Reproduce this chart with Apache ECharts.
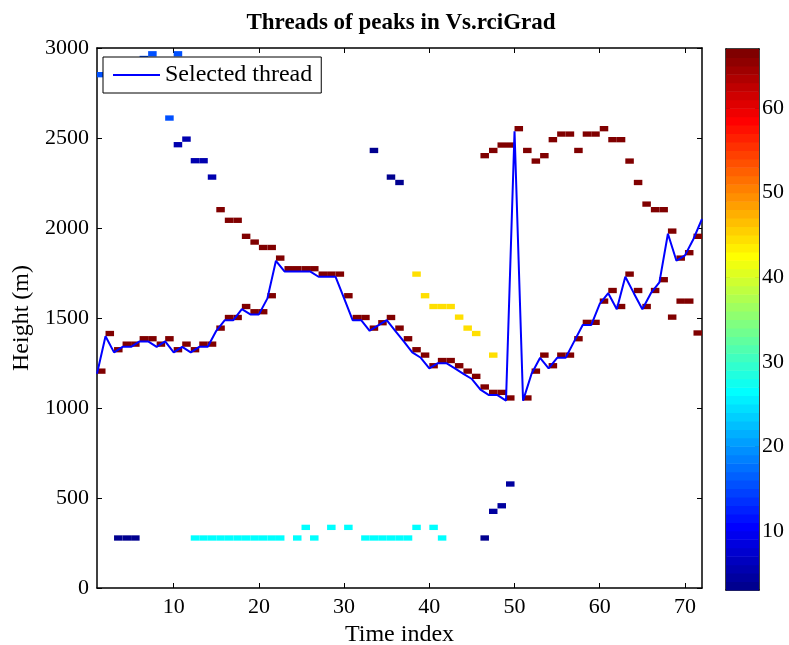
<!DOCTYPE html>
<html><head><meta charset="utf-8">
<script src="https://cdn.jsdelivr.net/npm/echarts@6/dist/echarts.min.js"></script>
<style>html,body{margin:0;padding:0;background:#fff}#c{width:789px;height:645px}</style>
</head><body><div id="c"></div>
<script>
// ---- data ----
const timeIndex = Array.from({length: 72}, (_, i) => i + 1);
const selectedThread = [
  1190,1399,1309,1340,1340,1370,1370,1340,1370,1309,
  1340,1309,1340,1340,1429,1488,1488,1549,1520,1520,
  1609,1818,1759,1759,1759,1759,1729,1729,1729,1609,
  1488,1488,1429,1459,1488,1429,1370,1309,1279,1220,
  1249,1249,1220,1190,1161,1102,1072,1072,1041,2537,
  1041,1190,1279,1220,1279,1279,1370,1461,1461,1579,
  1638,1549,1729,1638,1549,1638,1698,1968,1818,1848,
  1939,2050
];
// peaks [time index, height (m)] grouped by thread id
const thread67 = [
  [1,1190],[2,1399],[3,1309],[4,1340],[5,1340],[6,1370],[7,1370],[8,1340],[9,1370],[10,1309],
  [11,1340],[12,1309],[13,1340],[14,1340],[15,1429],[16,1488],[17,1488],[18,1549],[19,1520],[20,1520],
  [21,1609],[22,1818],[23,1759],[24,1759],[25,1759],[26,1759],[27,1729],[28,1729],[29,1729],[30,1609],
  [31,1488],[32,1488],[33,1429],[34,1459],[35,1488],[36,1429],[37,1370],[38,1309],[39,1279],[40,1220],
  [41,1249],[42,1249],[43,1220],[44,1190],[45,1161],[46,1102],[47,1072],[48,1072],[49,1041],
  [51,1041],[52,1190],[53,1279],[54,1220],[55,1279],[56,1279],[57,1370],[58,1461],[59,1461],[60,1579],
  [61,1638],[62,1549],[63,1729],[64,1638],[65,1549],[66,1638],[67,1698],[68,1968],[69,1818],[70,1848],
  [71,1939],
  [15,2087],[16,2028],[17,2028],[18,1939],[19,1907],[20,1877],[21,1877],
  [46,2387],[47,2416],[48,2446],[49,2446],[50,2537],[51,2416],[52,2357],[53,2387],[54,2476],
  [55,2507],[56,2507],[57,2416],[58,2507],[59,2507],[60,2537],[61,2476],[62,2476],[63,2357],
  [64,2238],[65,2118],[66,2087],[67,2087],
  [68,1490],[69,1579],[70,1579],[71,1402]
];
const thread15 = [[1,2837],[6,2927],[7,2953],[9,2596],[10,2953]];
const thread5 = [[10,2448],[11,2479],[12,2359],[13,2359],[14,2268]];
const thread3 = [[33,2416],[35,2268],[36,2238],[3,263],[4,263],[5,263],[46,263]];
const thread4 = [[47,411],[48,442],[49,563]];
const thread26 = [
  [12,263],[13,263],[14,263],[15,263],[16,263],[17,263],[18,263],[19,263],[20,263],[21,263],[22,263],
  [24,263],[25,322],[26,263],[28,322],[30,322],
  [32,263],[33,263],[34,263],[35,263],[36,263],[37,263],[38,322],[40,322],[41,263]
];
const thread44 = [[38,1729],[39,1609],[40,1549],[41,1549],[42,1549],[43,1490],[44,1429],[45,1399],[47,1279]];
const xTicks = [10,20,30,40,50,60,70];
const yTicks = [0,500,1000,1500,2000,2500,3000];
const cbarTicks = [10,20,30,40,50,60];
const colorLevels = Array.from({length: 64}, (_, i) => i + 1);

// ---- helpers ----
const CMIN = 3, CMAX = 67, NCOL = 64, BIN = 29.6;
const FONT = 'Liberation Serif';
function jetColor(k) {
  const u = j => (j < 1 || j > 47) ? 0 : (j <= 16 ? j / 16 : (j <= 31 ? 1 : (48 - j) / 16));
  const r = u(k - 24), g = u(k - 8), b = u(k + 8);
  return 'rgb(' + Math.round(r * 255) + ',' + Math.round(g * 255) + ',' + Math.round(b * 255) + ')';
}
function levelOf(t) {
  return Math.max(1, Math.min(NCOL, Math.floor((t - CMIN) / (CMAX - CMIN) * NCOL) + 1));
}
const peaks = [];
[[67, thread67], [15, thread15], [5, thread5], [3, thread3], [4, thread4], [26, thread26], [44, thread44]]
  .forEach(([id, arr]) => arr.forEach(p => peaks.push([p[0], p[1], id])));

function cellRender(params, api) {
  const i = api.value(0), h = api.value(1), t = api.value(2);
  const p0 = api.coord([i, h + BIN]);
  const p1 = api.coord([i + 1, h]);
  const cs = params.coordSys;
  const rect = echarts.graphic.clipRectByRect(
    {x: p0[0], y: p0[1], width: p1[0] - p0[0], height: p1[1] - p0[1]},
    {x: cs.x, y: cs.y, width: cs.width, height: cs.height});
  if (!rect) return;
  return {type: 'rect', shape: rect, style: {fill: jetColor(levelOf(t))}};
}
function barRender(params, api) {
  const k = api.value(0);
  const lo = CMIN + (k - 1) * (CMAX - CMIN) / NCOL, hi = CMIN + k * (CMAX - CMIN) / NCOL;
  const p0 = api.coord([0, hi]);
  const p1 = api.coord([1, lo]);
  return {type: 'rect', shape: {x: p0[0], y: p0[1], width: p1[0] - p0[0], height: p1[1] - p0[1] + 0.5},
    style: {fill: jetColor(k)}};
}

const axisLineStyle = {show: true, onZero: false, lineStyle: {color: '#000', width: 1.5}};
const tickStyle = {inside: true, length: 5, lineStyle: {color: '#000', width: 1}};
const labelStyle = {color: '#000', fontFamily: FONT, fontSize: 22, formatter: v => String(v)};

const chart = echarts.init(document.getElementById('c'), null, {renderer: 'canvas'});
chart.setOption({
  backgroundColor: '#fff',
  animation: false,
  title: {
    text: 'Threads of peaks in Vs.rciGrad', left: 396, top: 7, textAlign: 'center',
    textStyle: {fontFamily: FONT, fontSize: 23, fontWeight: 'bold', color: '#000'}
  },
  legend: {
    data: [{name: 'Selected thread', icon: 'rect'}], left: 103, top: 57, orient: 'horizontal',
    itemWidth: 47, itemHeight: 2, itemGap: 5,
    padding: [6, 9, 6, 10],
    backgroundColor: '#fff', borderColor: '#000', borderWidth: 1,
    itemStyle: {color: '#0000ff', borderWidth: 0},
    textStyle: {fontFamily: FONT, fontSize: 24, color: '#000'}
  },
  grid: [
    {left: 97, top: 48, width: 605, height: 540, containLabel: false, outerBoundsMode: 'none'},
    {left: 726, top: 49, width: 33, height: 541, containLabel: false, outerBoundsMode: 'none'}
  ],
  xAxis: [
    {type: 'value', gridIndex: 0, min: 1, max: 72, position: 'bottom',
      axisLine: axisLineStyle,
      axisTick: Object.assign({customValues: xTicks}, tickStyle),
      axisLabel: Object.assign({customValues: xTicks, margin: 8}, labelStyle),
      splitLine: {show: false},
      name: 'Time index', nameLocation: 'middle', nameGap: 33,
      nameTextStyle: {fontFamily: FONT, fontSize: 24, color: '#000'}},
    {type: 'value', gridIndex: 0, min: 1, max: 72, position: 'top',
      axisLine: axisLineStyle,
      axisTick: Object.assign({customValues: xTicks}, tickStyle),
      axisLabel: {show: false}, splitLine: {show: false}},
    {type: 'value', gridIndex: 1, min: 0, max: 1, position: 'bottom',
      axisLine: axisLineStyle, axisTick: {show: false}, axisLabel: {show: false}, splitLine: {show: false}},
    {type: 'value', gridIndex: 1, min: 0, max: 1, position: 'top',
      axisLine: axisLineStyle, axisTick: {show: false}, axisLabel: {show: false}, splitLine: {show: false}}
  ],
  yAxis: [
    {type: 'value', gridIndex: 0, min: 0, max: 3000, position: 'left',
      axisLine: axisLineStyle,
      axisTick: Object.assign({customValues: yTicks}, tickStyle),
      axisLabel: Object.assign({customValues: yTicks, margin: 8}, labelStyle),
      splitLine: {show: false},
      name: 'Height (m)', nameLocation: 'middle', nameGap: 60, nameRotate: 90,
      nameTextStyle: {fontFamily: FONT, fontSize: 24, color: '#000'}},
    {type: 'value', gridIndex: 0, min: 0, max: 3000, position: 'right',
      axisLine: axisLineStyle,
      axisTick: Object.assign({customValues: yTicks}, tickStyle),
      axisLabel: {show: false}, splitLine: {show: false}},
    {type: 'value', gridIndex: 1, min: CMIN, max: CMAX, position: 'right',
      axisLine: axisLineStyle,
      axisTick: Object.assign({customValues: cbarTicks}, tickStyle, {length: 4}),
      axisLabel: Object.assign({customValues: cbarTicks, margin: 3}, labelStyle),
      splitLine: {show: false}},
    {type: 'value', gridIndex: 1, min: CMIN, max: CMAX, position: 'left',
      axisLine: axisLineStyle,
      axisTick: Object.assign({customValues: cbarTicks}, tickStyle, {length: 4}),
      axisLabel: {show: false}, splitLine: {show: false}}
  ],
  series: [
    {type: 'custom', name: 'peaks', xAxisIndex: 0, yAxisIndex: 0, renderItem: cellRender,
      data: peaks, clip: true, z: 2, silent: true},
    {type: 'line', name: 'Selected thread', xAxisIndex: 0, yAxisIndex: 0,
      data: timeIndex.map((t, i) => [t, selectedThread[i]]),
      symbol: 'none', showSymbol: false, clip: true, z: 3,
      itemStyle: {color: '#0000ff'},
      lineStyle: {color: '#0000ff', width: 2}},
    {type: 'custom', name: 'colorbar', xAxisIndex: 2, yAxisIndex: 2, renderItem: barRender,
      data: colorLevels.map(k => [k]), z: 1, silent: true}
  ]
});
</script>
</body></html>
